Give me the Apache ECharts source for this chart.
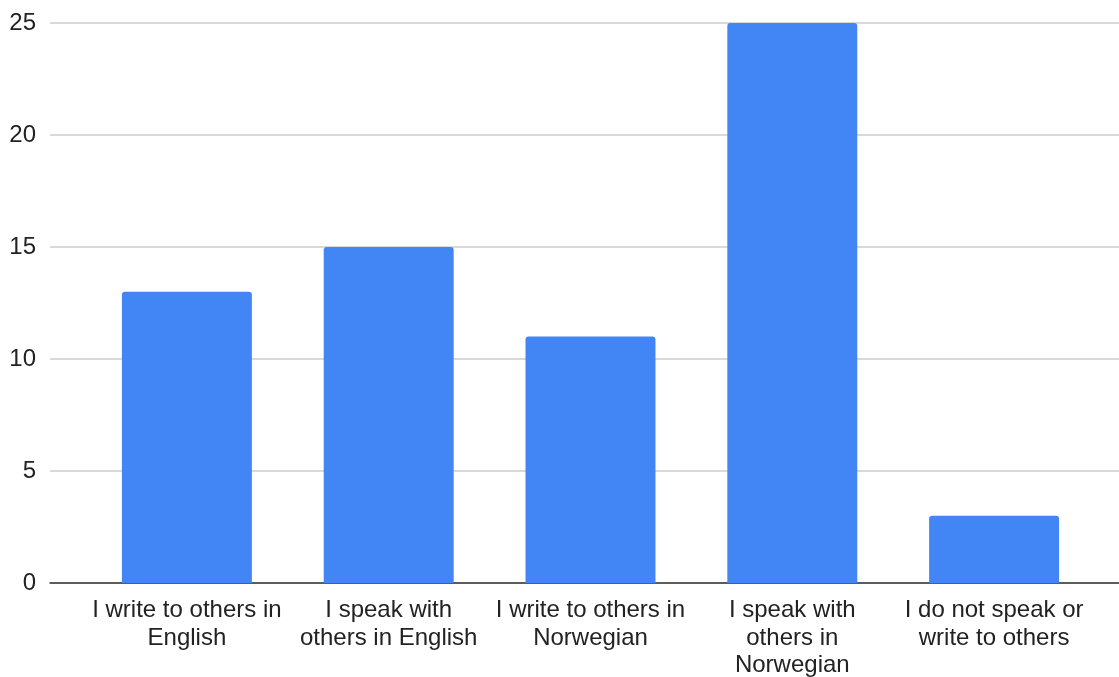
<!DOCTYPE html>
<html>
<head>
<meta charset="utf-8">
<script src="https://cdn.jsdelivr.net/npm/echarts@6/dist/echarts.min.js"></script>
<style>
  html, body { margin: 0; padding: 0; background: #fff; }
  #chart { width: 1119px; height: 677px; }
</style>
</head>
<body>
<div id="chart"></div>
<script>
// Category labels (line breaks as they appear under each bar)
const categories = [
  'I write to others in\nEnglish',
  'I speak with\nothers in English',
  'I write to others in\nNorwegian',
  'I speak with\nothers in\nNorwegian',
  'I do not speak or\nwrite to others'
];
// Number of responses per category
const counts = [13, 15, 11, 25, 3];
// Value axis ticks
const yTicks = [0, 5, 10, 15, 20, 25];

const yMin = yTicks[0];
const yMax = yTicks[yTicks.length - 1];
const yStep = yTicks[1] - yTicks[0];

const font = 'Liberation Sans, Arial, sans-serif';
const chart = echarts.init(document.getElementById('chart'), null, { renderer: 'canvas' });

chart.setOption({
  animation: false,
  backgroundColor: '#ffffff',
  grid: [
    // full-width frame carrying gridlines, tick labels and baseline
    { left: 50, right: 0, top: 23, bottom: 94, containLabel: false, outerBoundsMode: 'none' },
    // inner band where the category bars sit
    { left: 86, right: 24, top: 23, bottom: 94, containLabel: false, outerBoundsMode: 'none' }
  ],
  xAxis: [
    {
      type: 'value', gridIndex: 0, min: 0, max: 1,
      axisLine: { show: true, onZero: false, lineStyle: { color: '#333333', width: 1.5 } },
      axisTick: { show: false }, axisLabel: { show: false }, splitLine: { show: false }
    },
    {
      type: 'category', gridIndex: 1, data: categories,
      axisLine: { show: false }, axisTick: { show: false },
      axisLabel: {
        interval: 0, margin: 14, color: '#222222',
        fontFamily: font, fontSize: 24, lineHeight: 27.5, align: 'center'
      }
    }
  ],
  yAxis: [
    {
      type: 'value', gridIndex: 0, min: yMin, max: yMax, interval: yStep,
      axisLine: { show: false }, axisTick: { show: false },
      axisLabel: { margin: 14, color: '#222222', fontFamily: font, fontSize: 24 },
      splitLine: { lineStyle: { color: '#cccccc', width: 1.5 } }
    },
    {
      type: 'value', gridIndex: 1, min: yMin, max: yMax, interval: yStep,
      show: false, splitLine: { show: false }
    }
  ],
  series: [{
    type: 'bar',
    xAxisIndex: 1, yAxisIndex: 1,
    data: counts,
    barWidth: '64.4%',
    itemStyle: { color: '#4285f4', borderRadius: [3, 3, 0, 0] },
    z: 1
  }]
});
</script>
</body>
</html>
